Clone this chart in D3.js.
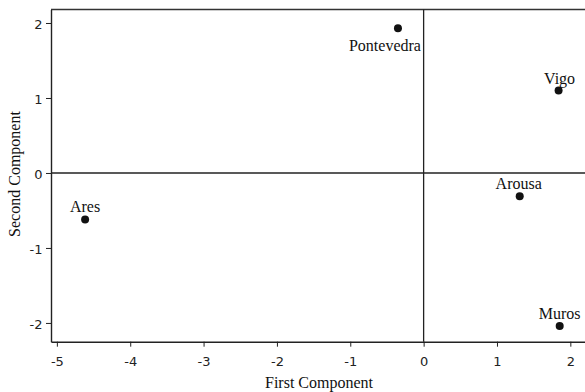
<!DOCTYPE html>
<html>
<head>
<meta charset="utf-8">
<script src="https://cdn.jsdelivr.net/npm/d3@7"></script>
<style>
  body { margin: 0; background: #fff; }
  .tick text { font-family: "DejaVu Sans", sans-serif; font-size: 13px; fill: #222; }
  .lbl { font-family: "Liberation Serif", "Times New Roman", serif; font-size: 16px; fill: #111; }
</style>
</head>
<body>
<svg id="chart" width="585" height="392"></svg>
<script>
// data
const sites = ["Pontevedra", "Vigo", "Arousa", "Muros", "Ares"];
const firstComp = [-0.35, 1.84, 1.31, 1.855, -4.615];
const secondComp = [1.93, 1.10, -0.31, -2.04, -0.62];
const xTicks = [-5, -4, -3, -2, -1, 0, 1, 2];
const yTicks = [-2, -1, 0, 1, 2];

const svg = d3.select("#chart");
const plotL = 51, plotR = 585, plotT = 9.5, plotB = 341.7;

const x = d3.scaleLinear().domain([-5.08, 2.2]).range([plotL, plotR]);
const y = d3.scaleLinear().domain([-2.25, 2.18]).range([plotB, plotT]);

// top border
svg.append("line")
  .attr("x1", plotL).attr("x2", plotR)
  .attr("y1", plotT).attr("y2", plotT)
  .attr("stroke", "#333").attr("stroke-width", 1.4);

// zero lines
svg.append("line")
  .attr("x1", x(0)).attr("x2", x(0))
  .attr("y1", plotT).attr("y2", plotB)
  .attr("stroke", "#222").attr("stroke-width", 1.3);
svg.append("line")
  .attr("x1", plotL).attr("x2", plotR)
  .attr("y1", y(0)).attr("y2", y(0))
  .attr("stroke", "#222").attr("stroke-width", 1.3);

const xAxis = svg.append("g")
  .attr("transform", "translate(0," + plotB + ")")
  .call(d3.axisBottom(x).tickValues(xTicks).tickSizeInner(5).tickSizeOuter(0).tickPadding(10).tickFormat(d3.format("d")));

const yAxis = svg.append("g")
  .attr("transform", "translate(" + plotL + ",0)")
  .call(d3.axisLeft(y).tickValues(yTicks).tickSizeInner(5).tickSizeOuter(0).tickPadding(3.5).tickFormat(d3.format("d")));
yAxis.selectAll(".tick text").attr("dy", "0.45em");

svg.selectAll(".domain").attr("stroke", "#222").attr("stroke-width", 1.4);
svg.selectAll(".tick line").attr("stroke", "#222");
// plain hyphen minus like the original
svg.selectAll(".tick text").text(d => String(d));

// points
const pts = sites.map((s, i) => ({ name: s, fx: firstComp[i], sy: secondComp[i] }));

svg.selectAll("circle.pt")
  .data(pts)
  .enter().append("circle")
  .attr("class", "pt")
  .attr("cx", d => x(d.fx))
  .attr("cy", d => y(d.sy))
  .attr("r", 4)
  .attr("fill", "#111");

// label placement around each point
const labelShift = {
  Pontevedra: [-13, 23],
  Vigo: [1, -6],
  Arousa: [-1, -7],
  Muros: [0, -6.5],
  Ares: [0, -7]
};

svg.selectAll("text.lbl")
  .data(pts)
  .enter().append("text")
  .attr("class", "lbl")
  .attr("text-anchor", "middle")
  .attr("x", d => x(d.fx) + labelShift[d.name][0])
  .attr("y", d => y(d.sy) + labelShift[d.name][1])
  .text(d => d.name);

// axis titles
svg.append("text")
  .attr("class", "lbl")
  .attr("text-anchor", "middle")
  .attr("x", 319).attr("y", 388)
  .text("First Component");

svg.append("text")
  .attr("class", "lbl")
  .attr("text-anchor", "middle")
  .attr("transform", "translate(19.5,174) rotate(-90)")
  .text("Second Component");
</script>
</body>
</html>
